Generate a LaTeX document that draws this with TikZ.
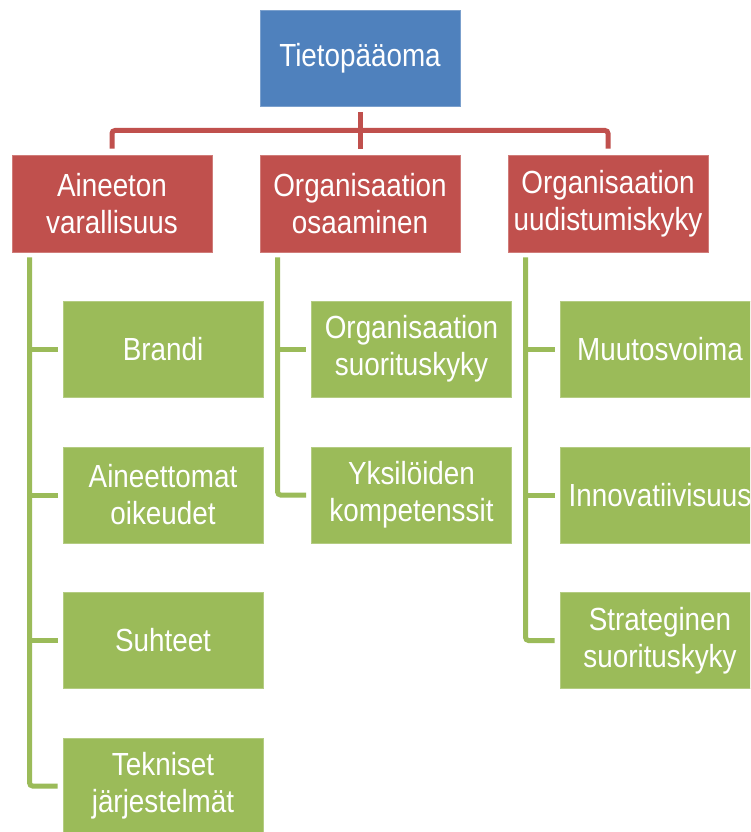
\documentclass[tikz,border=0pt]{standalone}
\usepackage{fontspec}
\setmainfont{Liberation Sans}[FakeStretch=0.87]
\definecolor{cblue}{HTML}{4F81BD}
\definecolor{cred}{HTML}{C0504D}
\definecolor{cgreen}{HTML}{9BBB59}
\tikzset{
  box/.style={rectangle, minimum width=200pt, minimum height=96pt, inner sep=0pt,
    text=white, align=center, font=\fontsize{32}{37}\selectfont, line width=0.8pt},
  topbox/.style={box, fill=cblue, draw=cblue!75!white},
  redbox/.style={box, fill=cred, draw=cred!75!white, minimum height=97pt},
  grbox/.style={box, fill=cgreen, draw=cgreen!75!white},
  redln/.style={draw=cred, line width=5pt, rounded corners=3pt},
  grln/.style={draw=cgreen, line width=5pt, rounded corners=3pt},
}
\begin{document}
\begin{tikzpicture}[x=1pt,y=-1pt]
\useasboundingbox (0,0) rectangle (750,832);
\clip (0,0) rectangle (750,832);
\fill[white] (0,0) rectangle (750,832);
% top
\node[topbox] (top) at (360,58) {Tietopääoma};
% level 2
\node[redbox] (a1) at (112,203.5) {Aineeton\\varallisuus};
\node[redbox] (a2) at (360,203.5) {Organisaation\\osaaminen};
\node[redbox] (a3) at (608,203.5) {Organisaation\\uudistumiskyky};
% column 1
\node[grbox] (b1) at (163,349) {Brandi};
\node[grbox] (b2) at (163,495) {Aineettomat\\oikeudet};
\node[grbox] (b3) at (163,640.5) {Suhteet};
\node[grbox] (b4) at (163,786) {Tekniset\\järjestelmät};
% column 2
\node[grbox] (c1) at (411.5,349) {Organisaation\\suorituskyky};
\node[grbox] (c2) at (411.5,495) {Yksilöiden\\kompetenssit};
% column 3
\node[grbox] (d1) at (660,349) {Muutosvoima};
\node[grbox] (d2) at (660,495) {Innovatiivisuus};
\node[grbox] (d3) at (660,640.5) {Strateginen\\suorituskyky};
% red connectors
\coordinate (j) at (360,130.5);
\draw[redln] ([yshift=6pt]a1.north) |- (j) -| ([yshift=6pt]a3.north);
\draw[redln] ([yshift=-6pt]top.south) -- ([yshift=6pt]a2.north);
% green connectors column 1
\draw[grln] ([xshift=18pt,yshift=-5pt]a1.south west) |- ([xshift=-5pt]b4.west);
\foreach \n in {b1,b2,b3}
  \draw[grln] ([xshift=18pt]a1.south west |- \n.west) -- ([xshift=-5pt]\n.west);
% column 2
\draw[grln] ([xshift=18pt,yshift=-5pt]a2.south west) |- ([xshift=-5pt]c2.west);
\draw[grln] ([xshift=18pt]a2.south west |- c1.west) -- ([xshift=-5pt]c1.west);
% column 3
\draw[grln] ([xshift=18pt,yshift=-5pt]a3.south west) |- ([xshift=-5pt]d3.west);
\foreach \n in {d1,d2}
  \draw[grln] ([xshift=18pt]a3.south west |- \n.west) -- ([xshift=-5pt]\n.west);
\end{tikzpicture}
\end{document}
